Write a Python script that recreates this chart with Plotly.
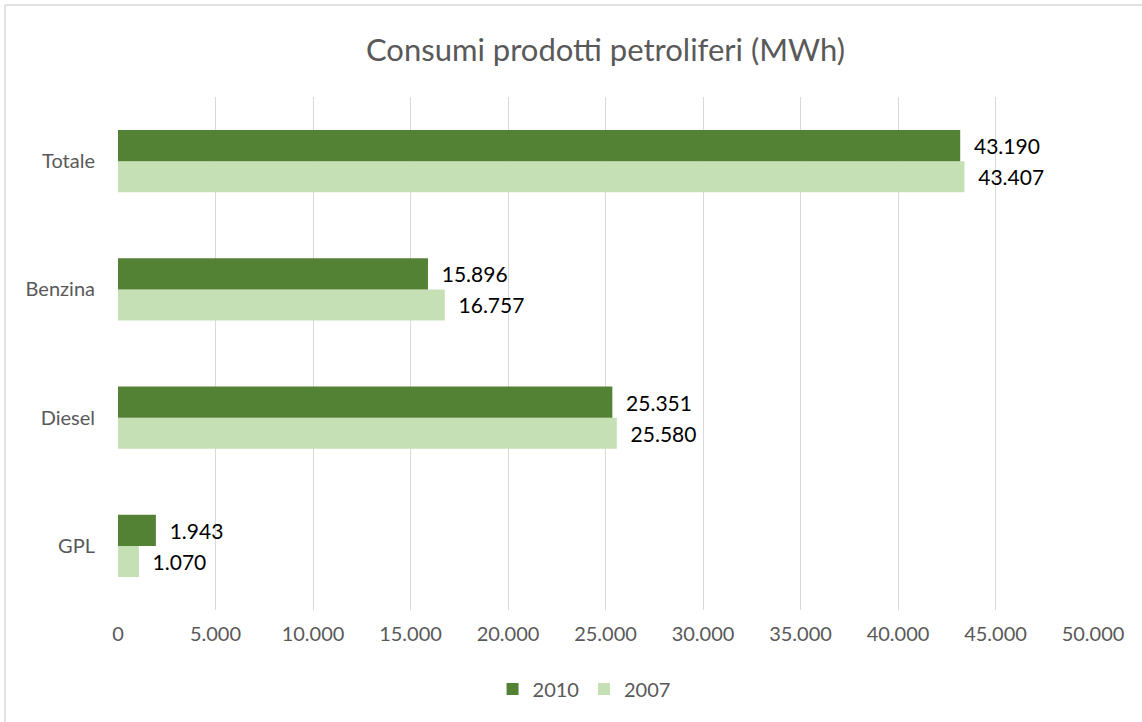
import plotly.graph_objects as go

categories = ["GPL", "Diesel", "Benzina", "Totale"]
values_2010 = [1943, 25351, 15896, 43190]
values_2007 = [1070, 25580, 16757, 43407]
tick_values = [0, 5000, 10000, 15000, 20000, 25000, 30000, 35000, 40000, 45000, 50000]

FONT = "Lato, 'Open Sans', sans-serif"
GAP = "\u00a0\u00a0"

fig = go.Figure()
fig.add_trace(go.Bar(
    y=categories, x=values_2007, name="2007", orientation="h",
    marker=dict(color="#C5E0B4", line=dict(width=0)),
    texttemplate=GAP + "%{x:,d}", textposition="outside",
    textfont=dict(color="#000000", size=21, family=FONT),
    cliponaxis=False,
))
fig.add_trace(go.Bar(
    y=categories, x=values_2010, name="2010", orientation="h",
    marker=dict(color="#548235", line=dict(width=0)),
    texttemplate=GAP + "%{x:,d}", textposition="outside",
    textfont=dict(color="#000000", size=21, family=FONT),
    cliponaxis=False,
))

fig.update_layout(
    width=1142, height=722,
    separators=",.",
    barmode="group",
    bargap=0.515,
    bargroupgap=0,
    paper_bgcolor="white",
    plot_bgcolor="white",
    margin=dict(l=118, r=49, t=97, b=112, autoexpand=False),
    title=dict(text="Consumi prodotti petroliferi (MWh)", x=0.5, xanchor="center",
               xref="paper", y=1 - 50 / 722, yanchor="middle",
               font=dict(family=FONT, size=31, color="#595959")),
    font=dict(family=FONT, color="#595959", size=20),
    legend=dict(orientation="h", x=0.478, xanchor="center", y=-79 / 513, yanchor="middle",
                traceorder="reversed", font=dict(size=20, color="#595959"),
                itemwidth=30),
    xaxis=dict(range=[0, 50000], tickvals=tick_values, tickformat=",d",
               showgrid=True, gridcolor="#D9D9D9", gridwidth=1.3,
               zeroline=False, showline=False, ticks="", automargin=False,
               ticklabelstandoff=10,
               tickfont=dict(size=20, color="#595959")),
    yaxis=dict(showgrid=False, zeroline=False, showline=False, ticks="",
               automargin=False, ticklabelstandoff=22,
               tickfont=dict(size=20, color="#595959")),
    shapes=[
        dict(type="line", xref="paper", yref="paper",
             x0=-113 / 975, x1=1.2, y0=1 + 92 / 513, y1=1 + 92 / 513,
             line=dict(color="#D9D9D9", width=1.5)),
        dict(type="line", xref="paper", yref="paper",
             x0=-113 / 975, x1=-113 / 975, y0=-0.3, y1=1 + 92 / 513,
             line=dict(color="#D9D9D9", width=1.5)),
    ],
)

fig.write_html("out.html", config={"displayModeBar": False},
               post_script="document.body.style.margin='0';")
